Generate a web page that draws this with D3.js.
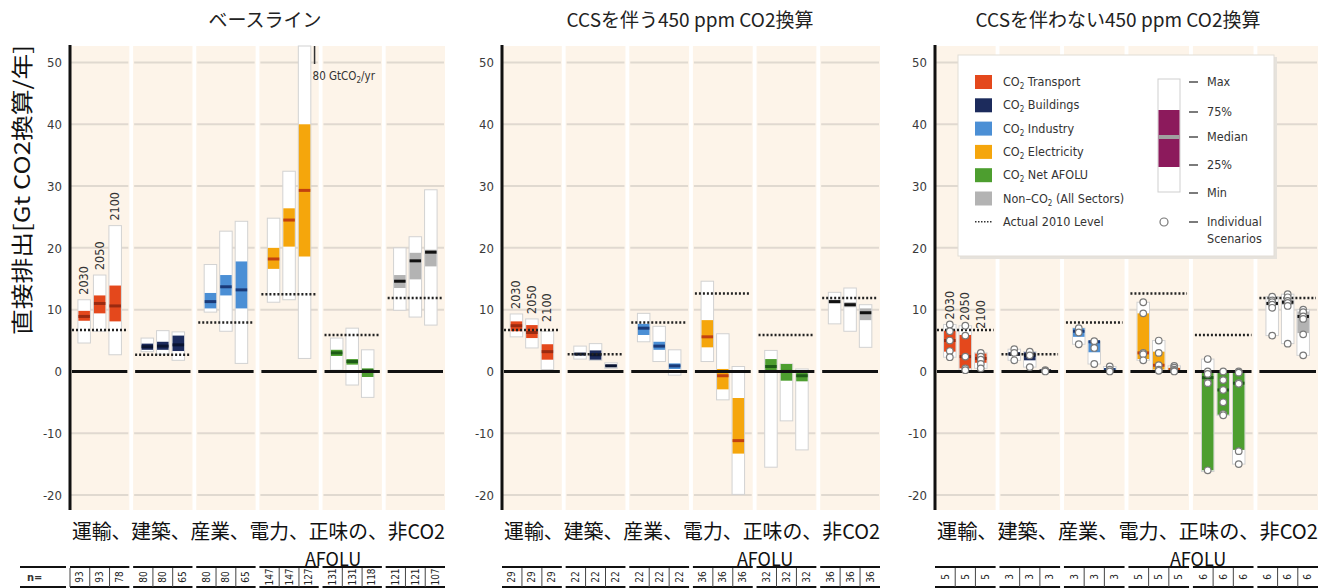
<!DOCTYPE html>
<html><head><meta charset="utf-8">
<script src="https://cdn.jsdelivr.net/npm/d3@7"></script>
<style>
body{margin:0;background:#fff;}
svg{display:block;}
.cond{font-family:"Liberation Sans Narrow","DejaVu Sans Condensed","Arial Narrow",sans-serif;}
.jp{font-family:"Noto Sans CJK JP","Noto Sans",sans-serif;}
</style>
</head><body>
<svg id="c" width="1327" height="588"></svg>
<script>
// ---------- DATA ----------
const categories = ["運輸、","建築、","産業、","電力、","正味の、","非CO2"];
const categoryLabel = "運輸、建築、産業、電力、正味の、非CO2";
const years = ["2030","2050","2100"];
const panelTitles = ["ベースライン","CCSを伴う450 ppm CO2換算","CCSを伴わない450 ppm CO2換算"];
const yTicks = [50,40,30,20,10,0,-10,-20];
const yTitle = "直接排出[Gt CO2換算/年]";

// Baseline (per sector: 2030, 2050, 2100)
const baseMax = [11.6,15.6,23.6,  5.4,6.6,6.4,  17.3,22.7,24.3,  24.8,32.4,80,  5.4,7.0,3.5,  20.0,21.8,29.4];
const baseQ3  = [9.8,12.3,13.9,   4.5,4.8,5.8,  12.7,15.6,17.8,  20.0,26.4,40.0, 3.5,2.0,0.5,  15.6,19.2,19.7];
const baseMed = [8.9,11.0,10.6,   4.0,4.1,4.3,  11.3,13.7,13.2,  18.2,24.5,29.3, 3.0,1.6,0.1,  14.6,17.9,19.3];
const baseQ1  = [8.2,9.4,8.1,     3.5,3.5,3.3,  10.2,12.3,10.2,  16.6,20.2,18.6, 2.5,1.1,-0.9, 13.5,14.9,17.0];
const baseMin = [4.6,6.5,2.7,     3.2,2.8,1.8,  9.6,6.5,1.3,     11.2,11.6,2.1,  0.2,-2.2,-4.2, 9.9,8.8,7.5];
const baseRef = [6.7,2.7,7.9,12.5,5.9,11.9];
const baseN   = [93,93,78, 80,80,65, 80,80,65, 147,147,127, 131,131,118, 121,121,107];

// 450 ppm with CCS
const ccsMax = [9.3,8.5,6.5,  4.1,4.5,1.4,  9.4,7.3,3.5,   14.6,6.1,0.8,    3.4,1.2,0.4,     12.8,13.5,10.8];
const ccsQ3  = [8.1,7.5,4.4,  3.0,3.4,1.1,  7.7,4.8,1.3,   8.3,0.4,-4.3,    2.0,1.2,-0.2,    11.6,11.2,10.2];
const ccsMed = [7.4,6.3,3.2,  2.8,2.7,0.9,  7.0,4.1,0.9,   5.6,-0.7,-11.2,  0.8,0.0,-0.7,    11.3,10.8,9.5];
const ccsQ1  = [6.5,5.4,1.9,  2.7,1.9,0.8,  5.9,3.5,0.4,   3.9,-2.9,-13.3,  0.1,-1.5,-1.6,   11.0,10.4,8.3];
const ccsMin = [5.6,3.8,0.3,  2.0,1.8,0.5,  4.8,1.6,-0.6,  1.6,-4.6,-19.9,  -15.5,-8.0,-12.7, 7.7,6.5,3.9];
const ccsRef = [6.7,2.8,7.9,12.6,5.9,11.9];
const ccsN   = [29,29,29, 22,22,22, 22,22,22, 36,36,36, 32,32,32, 36,36,36];

// 450 ppm without CCS
const noMax = [7.6,7.4,3.0,  3.6,3.2,0.2,   7.0,4.9,0.8,  11.2,5.0,0.9,  2.0,0.0,0.0,     12.1,12.5,10.0];
const noQ3  = [6.6,5.9,2.9,  3.1,3.1,0.15,  7.0,5.0,0.5,  9.4,3.2,0.6,   -0.1,0.0,0.0,    11.3,11.6,9.7];
const noMed = [5.0,2.4,2.1,  2.8,2.6,0.1,   6.5,4.8,0.3,  3.0,1.0,0.3,   -1.0,-3.0,-1.9,  11.0,11.2,8.9];
const noQ1  = [3.2,0.5,1.4,  2.6,1.8,0.05,  5.6,3.1,0.1,  2.0,0.3,0.1,   -16.0,-7.0,-12.7, 10.7,10.8,6.2];
const noMin = [2.3,0.2,0.5,  1.8,0.7,0.0,   4.4,1.2,0.0,  1.8,0.1,0.0,   -16.2,-7.1,-15.0, 5.8,4.5,2.6];
const noRef = [6.7,2.8,7.9,12.6,5.9,11.9];
const noN   = [5,5,5, 3,3,3, 3,3,3, 5,5,5, 6,6,6, 6,6,6];
const noScenarios = [
  [7.6,6.5,5.0,3.3,2.3], [7.4,5.8,2.4,0.5,0.2], [3.0,2.4,1.9,1.2,0.5],
  [3.6,3.0,1.8], [3.2,2.6,0.7], [0.2,0.1,0.0],
  [7.0,6.3,4.4], [4.9,3.8,1.2], [0.8,0.3,0.0],
  [11.2,9.4,3.0,2.8,1.8], [5.0,3.0,1.0,0.3,0.1], [0.9,0.6,0.3,0.1,0.0],
  [2.0,0.0,-0.4,-1.8,-1.9,-16.0], [0.0,-1.4,-3.0,-5.0,-6.9,-7.1], [0.0,-0.2,-1.9,-2.0,-12.9,-15.0],
  [12.1,11.5,11.2,10.8,10.3,5.8], [12.5,12.0,11.4,11.1,10.6,4.5], [10.0,9.6,8.9,8.5,6.0,2.6]
];

// legend
const legendLabels = [["CO","2"," Transport"],["CO","2"," Buildings"],["CO","2"," Industry"],["CO","2"," Electricity"],["CO","2"," Net AFOLU"],["Non–CO","2"," (All Sectors)"]];
const boxLegendLabels = ["Max","75%","Median","25%","Min"];

// ---------- STYLE ----------
const sectorColors = ["#e4481c","#1c2b5c","#4b8fd5","#f5a60c","#4d9e2f","#b3b3b3"];
const medianColors = ["#9a2a10","#0a1430","#1a3a78","#c2410f","#1d5a17","#111111"];
const beige = "#fdf4e9";

const svg = d3.select("#c");
const y = d3.scaleLinear().domain([-20,50]).range([495,62.5]);
const plotTop = 46, plotBottom = 510;

const panels = [
  {x0:70,x1:445,max:baseMax,q3:baseQ3,med:baseMed,q1:baseQ1,min:baseMin,ref:baseRef,n:baseN,pts:null,title:panelTitles[0],tx:265},
  {x0:502,x1:880,max:ccsMax,q3:ccsQ3,med:ccsMed,q1:ccsQ1,min:ccsMin,ref:ccsRef,n:ccsN,pts:null,title:panelTitles[1],tx:690},
  {x0:935,x1:1318,max:noMax,q3:noQ3,med:noMed,q1:noQ1,min:noMin,ref:noRef,n:noN,pts:noScenarios,title:panelTitles[2],tx:1118}
];

panels.forEach((p,pi)=>{
  const band = d3.scaleBand().domain(categories).range([p.x0,p.x1]).paddingInner(0.06);
  const bw = band.bandwidth();
  const g = svg.append("g");
  const barW = 12.5, step = 15.5;
  const cxOf = i => band(categories[Math.floor(i/3)]) + bw/2 + (i%3-1)*step;

  // title
  svg.append("text").attr("class","jp").attr("x",p.tx).attr("y",27).attr("text-anchor","middle")
    .attr("font-size",19).attr("fill","#222").text(p.title);

  // beige columns
  g.selectAll("rect.bg").data(categories).join("rect").attr("class","bg")
    .attr("x",d=>band(d)).attr("y",plotTop).attr("width",bw).attr("height",plotBottom-plotTop).attr("fill",beige);

  // gridlines
  yTicks.filter(t=>t!==0).forEach(t=>{
    g.selectAll(null).data(categories).join("line")
      .attr("x1",d=>band(d)+1).attr("x2",d=>band(d)+bw-1)
      .attr("y1",y(t)).attr("y2",y(t)).attr("stroke","#e0d9d0").attr("stroke-width",2);
  });

  // bars
  const idx = d3.range(18);
  g.selectAll("rect.rng").data(idx).join("rect").attr("class","rng")
    .attr("x",i=>cxOf(i)-barW/2).attr("width",barW)
    .attr("y",i=>Math.max(plotTop,y(p.max[i])))
    .attr("height",i=>y(p.min[i])-Math.max(plotTop,y(p.max[i])))
    .attr("fill","#fff").attr("stroke","#d2d2d2").attr("stroke-width",1);
  g.selectAll("rect.iqr").data(idx).join("rect").attr("class","iqr")
    .attr("x",i=>cxOf(i)-barW/2+0.5).attr("width",barW-1)
    .attr("y",i=>y(p.q3[i])).attr("height",i=>Math.max(1.5,y(p.q1[i])-y(p.q3[i])))
    .attr("fill",i=>sectorColors[Math.floor(i/3)]);
  g.selectAll("line.med").data(idx).join("line").attr("class","med")
    .attr("x1",i=>cxOf(i)-barW/2+0.5).attr("x2",i=>cxOf(i)+barW/2-0.5)
    .attr("y1",i=>y(p.med[i])).attr("y2",i=>y(p.med[i]))
    .attr("stroke",i=>medianColors[Math.floor(i/3)]).attr("stroke-width",3);

  // zero line
  g.selectAll("line.zero").data(categories).join("line").attr("class","zero")
    .attr("x1",d=>band(d)+2).attr("x2",d=>band(d)+bw-2)
    .attr("y1",y(0)).attr("y2",y(0)).attr("stroke","#111").attr("stroke-width",3);

  // 2010 level
  g.selectAll("line.ref").data(p.ref).join("line").attr("class","ref")
    .attr("x1",(d,j)=>band(categories[j])+2).attr("x2",(d,j)=>band(categories[j])+bw-2)
    .attr("y1",d=>y(d)).attr("y2",d=>y(d))
    .attr("stroke","#222").attr("stroke-width",2.5).attr("stroke-dasharray","2,2");

  // scenario points
  if(p.pts){
    const pts = [];
    p.pts.forEach((arr,i)=>arr.forEach(v=>pts.push({i,v})));
    g.selectAll("circle.pt").data(pts).join("circle").attr("class","pt")
      .attr("cx",d=>cxOf(d.i)).attr("cy",d=>y(d.v)).attr("r",3.3)
      .attr("fill","#fff").attr("stroke","#7a7a7a").attr("stroke-width",1.2);
  }

  // year labels
  let prev = Infinity;
  [0,1,2].forEach(k=>{
    const x = cxOf(k)+4;
    const yy = Math.min(y(p.max[k]) - 5, prev + 8);
    prev = yy;
    svg.append("text").attr("class","cond").attr("transform",`translate(${x},${yy}) rotate(-90)`)
      .attr("font-size",12.5).attr("fill","#333").text(years[k]);
  });

  // y axis
  const ax = svg.append("g").attr("class","cond").attr("transform",`translate(${p.x0},0)`)
    .call(d3.axisLeft(y).tickValues(yTicks).tickSize(0).tickPadding(8).tickFormat(d=>String(d)));
  ax.select(".domain").remove();
  ax.selectAll("text").attr("font-size",13).attr("fill","#3a3a3a").attr("font-family",null);
  svg.append("line").attr("x1",p.x0).attr("x2",p.x0).attr("y1",plotTop-1).attr("y2",plotBottom)
    .attr("stroke","#111").attr("stroke-width",3);

  // category labels
  svg.append("text").attr("class","jp").attr("x",p.x0+2).attr("y",539).attr("font-size",20)
    .attr("fill","#111").attr("textLength",p.x1-p.x0-2).attr("lengthAdjust","spacingAndGlyphs").text(categoryLabel);
  svg.append("text").attr("class","jp").attr("x",p.x0+263).attr("y",566).attr("text-anchor","middle")
    .attr("font-size",18).attr("fill","#111").text("AFOLU");

  // n table
  const t = svg.append("g");
  t.selectAll("line.nt").data(categories).join("line").attr("class","nt")
    .attr("x1",d=>band(d)).attr("x2",d=>band(d)+bw).attr("y1",567).attr("y2",567)
    .attr("stroke","#111").attr("stroke-width",2);
  t.selectAll("line.nb").data(categories).join("line").attr("class","nb")
    .attr("x1",d=>band(d)).attr("x2",d=>band(d)+bw).attr("y1",587).attr("y2",587)
    .attr("stroke","#111").attr("stroke-width",2);
  categories.forEach(c=>{
    [1,2].forEach(k=>{
      t.append("line").attr("x1",band(c)+bw*k/3).attr("x2",band(c)+bw*k/3).attr("y1",568).attr("y2",587)
        .attr("stroke","#444").attr("stroke-width",1);
    });
  });
  t.selectAll("text.nv").data(p.n).join("text").attr("class","nv cond")
    .attr("transform",(d,i)=>`translate(${band(categories[Math.floor(i/3)])+bw*(i%3+0.5)/3+3.5},577) rotate(-90)`)
    .attr("text-anchor","middle").attr("font-size",10).attr("fill","#222").text(d=>d);
  if(pi===0){
    t.append("line").attr("x1",20).attr("x2",66).attr("y1",567).attr("y2",567).attr("stroke","#111").attr("stroke-width",2);
    t.append("line").attr("x1",20).attr("x2",66).attr("y1",587).attr("y2",587).attr("stroke","#111").attr("stroke-width",2);
    t.append("line").attr("x1",p.x0).attr("x2",p.x0).attr("y1",568).attr("y2",587).attr("stroke","#444").attr("stroke-width",1);
    t.append("text").attr("class","cond").attr("x",27).attr("y",581).attr("font-size",11).attr("font-weight","bold")
      .attr("fill","#333").text("n=");
    // annotation for clipped bar
    const cx = cxOf(11);
    svg.append("line").attr("x1",cx+10).attr("x2",cx+10).attr("y1",plotTop).attr("y2",64)
      .attr("stroke","#333").attr("stroke-width",1.5);
    const a = svg.append("text").attr("class","cond").attr("x",cx+8).attr("y",80).attr("font-size",11.5).attr("fill","#333");
    a.append("tspan").text("80 GtCO");
    a.append("tspan").attr("font-size",8).attr("dy",3).text("2");
    a.append("tspan").attr("dy",-3).text("/yr");
  }
});

// y axis title
svg.append("text").attr("class","jp").attr("transform","translate(30,190) rotate(-90)")
  .attr("text-anchor","middle").attr("font-size",22).attr("fill","#111")
  .attr("textLength",290).attr("lengthAdjust","spacingAndGlyphs").text(yTitle);

// ---------- LEGEND ----------
const lg = svg.append("g").attr("class","cond");
lg.append("rect").attr("x",960).attr("y",57).attr("width",317).attr("height",202).attr("fill","#e6e2dc");
lg.append("rect").attr("x",958).attr("y",55).attr("width",316).attr("height",201).attr("fill","#fff").attr("stroke","#e2ddd6");
legendLabels.forEach((l,i)=>{
  const yy = 82 + i*23.3;
  lg.append("rect").attr("x",975).attr("y",yy-7).attr("width",17).attr("height",14).attr("fill",sectorColors[i]);
  const tx = lg.append("text").attr("x",1003).attr("y",yy+4).attr("font-size",12.5).attr("fill","#333");
  tx.append("tspan").text(l[0]);
  tx.append("tspan").attr("font-size",8).attr("dy",3).text(l[1]);
  tx.append("tspan").attr("dy",-3).text(l[2]);
});
{
  const yy = 82 + 6*23.3;
  lg.append("line").attr("x1",975).attr("x2",993).attr("y1",yy).attr("y2",yy).attr("stroke","#333")
    .attr("stroke-width",1.5).attr("stroke-dasharray","1.5,1.5");
  lg.append("text").attr("x",1003).attr("y",yy+4).attr("font-size",12.5).attr("fill","#333").text("Actual 2010 Level");
}
lg.append("rect").attr("x",1158).attr("y",79).attr("width",22).attr("height",113).attr("fill","#fff").attr("stroke","#cfcfcf");
lg.append("rect").attr("x",1158.5).attr("y",110).attr("width",21).attr("height",57).attr("fill","#8c1a5c");
lg.append("line").attr("x1",1158.5).attr("x2",1179.5).attr("y1",137).attr("y2",137).attr("stroke","#a0a0a0").attr("stroke-width",4);
[82,112,137,165,193].forEach((yy,i)=>{
  lg.append("line").attr("x1",1189).attr("x2",1198).attr("y1",yy).attr("y2",yy).attr("stroke","#333").attr("stroke-width",1.3);
  lg.append("text").attr("x",1207).attr("y",yy+4).attr("font-size",12.5).attr("fill","#333").text(boxLegendLabels[i]);
});
lg.append("circle").attr("cx",1164).attr("cy",222).attr("r",4).attr("fill","#fff").attr("stroke","#777").attr("stroke-width",1.2);
lg.append("line").attr("x1",1189).attr("x2",1198).attr("y1",222).attr("y2",222).attr("stroke","#333").attr("stroke-width",1.3);
lg.append("text").attr("x",1207).attr("y",226).attr("font-size",12.5).attr("fill","#333").text("Individual");
lg.append("text").attr("x",1207).attr("y",243).attr("font-size",12.5).attr("fill","#333").text("Scenarios");
</script>
</body></html>
